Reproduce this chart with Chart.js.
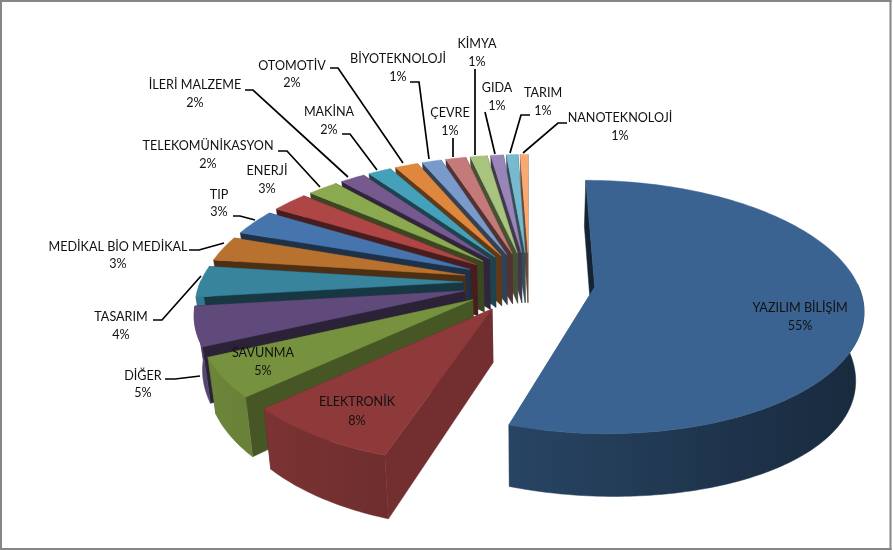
<!DOCTYPE html>
<html><head><meta charset="utf-8">
<style>html,body{margin:0;padding:0;background:#fff}canvas{display:block}</style>
<script src="https://cdn.jsdelivr.net/npm/chart.js@4"></script>
</head><body>
<canvas id="c" width="893" height="550"></canvas>
<script>
// ---- data ----
const categories = ["YAZILIM BİLİŞİM","ELEKTRONİK","SAVUNMA","DİĞER","TASARIM","MEDİKAL BİO MEDİKAL","TIP","ENERJİ","TELEKOMÜNİKASYON","İLERİ MALZEME","MAKİNA","OTOMOTİV","BİYOTEKNOLOJİ","ÇEVRE","KİMYA","GIDA","TARIM","NANOTEKNOLOJİ"];
const shares = [55.07,8,5,5,4,3.2,3.33,2.64,2.22,1.8,1.67,1.67,1.39,1.47,1.22,0.92,0.83,0.56];
const sliceColors = ["#3A6391","#8E3A3A","#76923F","#604A7B","#37849C","#B97130","#4675AE","#AD4644","#8BA94F","#75598F","#45A0B9","#E0873E","#7A9ACB","#C47A78","#A9C47F","#9A85B8","#77B9CF","#F9AA72"];
// label centre x, first-line y, second-line y
const labelPos = [[800,308,326],[357,402,421],[263,353,371],[143,376,393],[121,317,335],[118,247,264],[219,195,212],[267,171,189],[208,146,164],[195,85,103],[329,112,130],[292,66,83],[398,59,77],[450,113,131],[477,44,62],[497,88,106],[543,93,111],[620,118,136]];
// leader polylines
const leaders = [null,null,null,
 [[165,379],[175,379],[200,376]],
 [[153,320],[162,320],[201,276]],
 [[189,250],[199,250],[224,243]],
 [[233,216],[240,216],[255,220]],
 null,
 [[278,151],[287,151],[320,187]],
 [[245,90],[253,90],[348,177]],
 [[342,134],[350,134],[377,170]],
 [[330,68],[338,68],[403,163]],
 [[410,82],[419,82],[429,159]],
 [[453,138],[453,157]],
 [[475,69],[475,155]],
 [[485,112],[495,154]],
 [[530,115],[521,115],[510,153]],
 [[567,123],[558,123],[523,153]]];

// ---- 3D projection ----
const CX=529,CY=282.2,RX=262.5,RY=122,PERSP=0.156,EXPL=0.252,DEPTH=52,SHRINK=0.975;
function project(wx,wy,low){
  const s=1/(1-PERSP*wy);
  let x=CX+RX*wx*s,y=CY+RY*wy*s;
  if(low){x=CX+(x-CX)*SHRINK;y+=DEPTH*s+10*Math.pow(Math.max(0,wx),2);}
  return [x,y];
}
function rgb(hex){return [1,3,5].map(i=>parseInt(hex.substr(i,2),16));}
function shade(hex,f){const c=rgb(hex).map(v=>Math.round(v*f));return `rgb(${c[0]},${c[1]},${c[2]})`;}
const clamp=(v,a,b)=>Math.max(a,Math.min(b,v));

function poly(ctx,pts,fill,stroke){
  ctx.beginPath();pts.forEach((p,i)=>i?ctx.lineTo(p[0],p[1]):ctx.moveTo(p[0],p[1]));ctx.closePath();
  ctx.fillStyle=fill;ctx.fill();
  ctx.strokeStyle=stroke||fill;ctx.lineWidth=0.5;ctx.stroke();
}

const pie3d={
  id:'pie3d',
  beforeDatasetsDraw(chart){
    const ctx=chart.ctx, arcs=chart.getDatasetMeta(0).data;
    const slices=arcs.map((a,i)=>{
      const p=a.getProps(['startAngle','endAngle']);
      const t0=p.startAngle+Math.PI/2,t1=p.endAngle+Math.PI/2,m=(t0+t1)/2;
      return {i,t0,t1,ox:EXPL*Math.sin(m),oy:-EXPL*Math.cos(m)};
    }).sort((a,b)=>a.oy-b.oy);
    ctx.save();
    const bandF=x=>clamp(0.92-(x-200)*0.00075,0.42,0.92);
    for(const s of slices){
      const col=sliceColors[s.i];
      const pt=(th,rho,low)=>project(s.ox+rho*Math.sin(th),s.oy-rho*Math.cos(th),low);
      const wall=(th)=>{
        const deg=th*180/Math.PI;
        const f=clamp(0.42+(250-deg)/50*0.38,0.42,0.82);
        const f2=deg<30?0.36:f;
        return {y:pt(th,1,false)[1],pts:[pt(th,0,false),pt(th,1,false),pt(th,1,true),pt(th,0,true)],fill:shade(col,f2)};
      };
      [wall(s.t0),wall(s.t1)].sort((a,b)=>a.y-b.y).forEach(w=>poly(ctx,w.pts,w.fill));
      const n=Math.max(3,Math.ceil((s.t1-s.t0)/(Math.PI/180)));
      // outer rim, as one polygon with a horizontal gradient
      const upper=[],lower=[];
      for(let k=0;k<=n;k++){
        const a=s.t0+(s.t1-s.t0)*k/n;
        if(Math.cos(a)>0.03)continue;
        upper.push(pt(a,1,false));lower.push(pt(a,1,true));
      }
      if(upper.length>1){
        const xs=upper.map(p=>p[0]).concat(lower.map(p=>p[0]));
        const x0=Math.min(...xs),x1=Math.max(...xs);
        const g=ctx.createLinearGradient(x0,0,x1+0.01,0);
        for(let j=0;j<=4;j++){const x=x0+(x1-x0)*j/4;g.addColorStop(j/4,shade(col,bandF(x)));}
        poly(ctx,upper.concat(lower.reverse()),g);
      }
      const top=[pt(s.t0,0,false)];
      for(let k=0;k<=n;k++)top.push(pt(s.t0+(s.t1-s.t0)*k/n,1,false));
      poly(ctx,top,col);
    }
    ctx.restore();
    return false;
  },
  afterDraw(chart){
    const ctx=chart.ctx;
    ctx.save();
    // frame
    ctx.fillStyle='#868686';
    ctx.fillRect(0,0,891.5,2);ctx.fillRect(0,0,2,550);ctx.fillRect(889.5,0,2,550);ctx.fillRect(0,548,891.5,2);
    // leaders
    ctx.strokeStyle='#000';ctx.lineWidth=1.7;ctx.lineJoin='miter';
    leaders.forEach(l=>{if(!l)return;ctx.beginPath();l.forEach((p,i)=>i?ctx.lineTo(p[0],p[1]):ctx.moveTo(p[0],p[1]));ctx.stroke();});
    // labels
    ctx.font='12.6px Lato';ctx.fillStyle='#111';ctx.textAlign='center';ctx.textBaseline='middle';
    categories.forEach((c,i)=>{
      const [x,y1,y2]=labelPos[i];
      ctx.fillText(c,x,y1);
      ctx.fillText(Math.max(1,Math.round(shares[i]))+'%',x,y2);
    });
    ctx.restore();
  }
};

new Chart(document.getElementById('c'),{
  type:'pie',
  data:{labels:categories,datasets:[{data:shares,backgroundColor:sliceColors,borderWidth:0}]},
  options:{responsive:false,animation:false,rotation:0,
    plugins:{legend:{display:false},tooltip:{enabled:false},title:{display:false}}},
  plugins:[pie3d]
});
</script>
</body></html>
